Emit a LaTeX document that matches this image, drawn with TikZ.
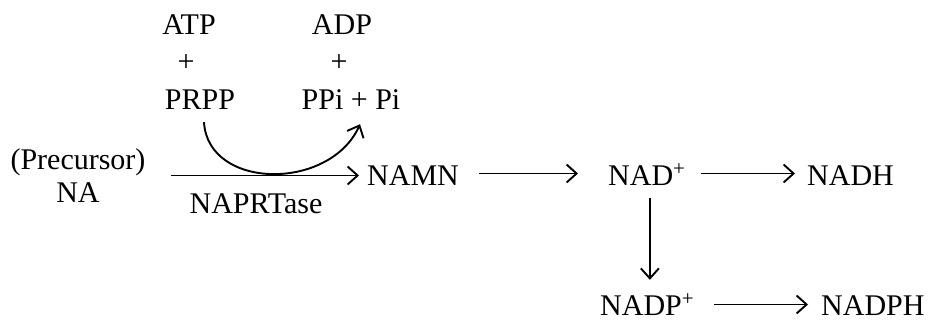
\documentclass[tikz,border=0pt]{standalone}
\usepackage{fontspec}
\setmainfont{Liberation Serif}
\usetikzlibrary{arrows.meta}
\begin{document}
\begin{tikzpicture}[x=1pt,y=-1pt,
  lbl/.style={inner sep=0pt,font=\fontsize{30}{34}\selectfont,text height=19pt,text depth=0pt},
  plus/.style={inner sep=0pt,font=\fontsize{30}{34}\selectfont},
  arr/.style={line width=1.9pt,-{Straight Barb[length=10pt,width=18pt,line width=1.9pt]}}]
\useasboundingbox[fill=white] (0,0) rectangle (931,321);
\node[lbl,anchor=base] (atp) at (189,35) {ATP};
\node[plus] (p1) at (186,63) {+};
\node[lbl,anchor=base] (prpp) at (200,109) {PRPP};
\node[lbl,anchor=base] (adp) at (342,35) {ADP};
\node[plus] (p2) at (339,63) {+};
\node[lbl,anchor=base] (ppi) at (351,109) {PPi + Pi};
\node[lbl,anchor=base] (prec) at (78,169) {(Precursor)};
\node[lbl,anchor=base] (na) at (78,202) {NA};
\node[lbl,anchor=base west] (namn) at (367,185) {NAMN};
\node[lbl,anchor=base] (naprt) at (256,213) {NAPRTase};
\node[lbl,anchor=base west] (nad) at (608,185) {NAD\textsuperscript{+}};
\node[lbl,anchor=base west] (nadh) at (807,185) {NADH};
\node[lbl,anchor=base west] (nadp) at (600,315) {NADP\textsuperscript{+}};
\node[lbl,anchor=base west] (nadph) at (821,315) {NADPH};
% connectors
\draw[arr] ([xshift=25pt]prec.east |- namn.west) -- ([xshift=-8pt]namn.west);
\draw[arr] ([xshift=4pt,yshift=-13pt]prpp.south) .. controls +(4,68) and +(-30,67) .. ([xshift=9pt,yshift=-15pt]ppi.south);
\draw[arr] ([xshift=20pt,yshift=2pt]namn.east) -- ([xshift=-30pt,yshift=2pt]nad.west);
\draw[arr] ([xshift=15pt,yshift=2pt]nad.east) -- ([xshift=-12pt,yshift=2pt]nadh.west);
\draw[arr] ([xshift=3pt,yshift=-13pt]nad.south) -- ([xshift=3pt,yshift=16pt]nad.south |- nadp.north);
\draw[arr] ([xshift=20pt,yshift=1pt]nadp.east) -- ([xshift=-13pt,yshift=1pt]nadph.west);
\end{tikzpicture}
\end{document}
